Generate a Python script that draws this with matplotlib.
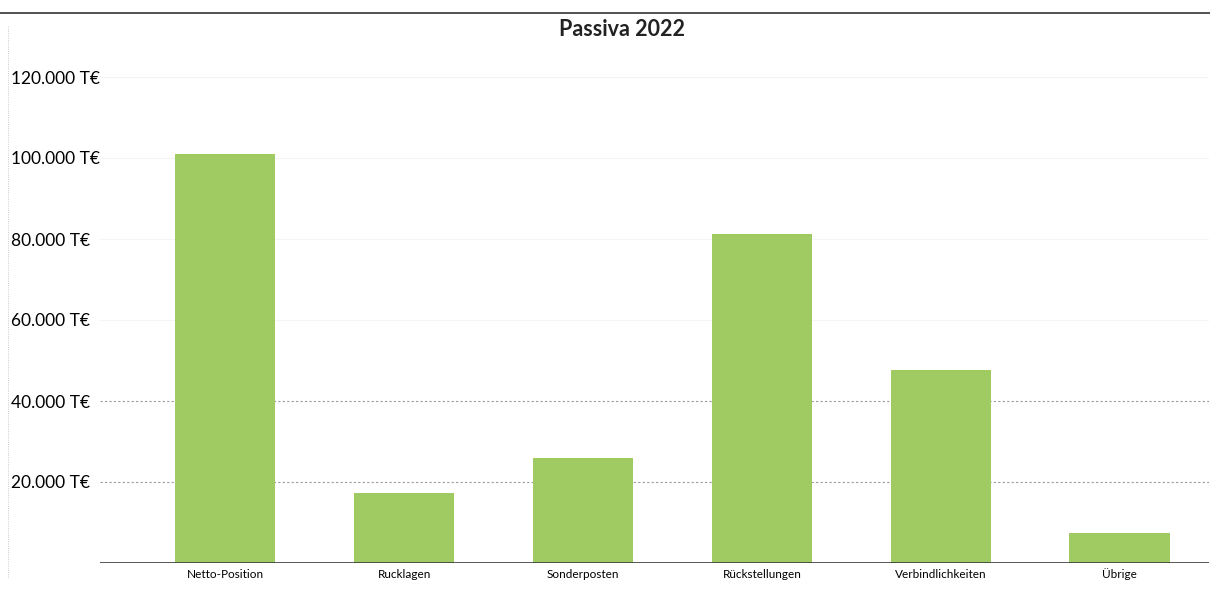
import matplotlib.pyplot as plt
import matplotlib.ticker as ticker
from matplotlib.lines import Line2D

# Data (T€)
categories = ['Netto-Position', 'Rucklagen', 'Sonderposten', 'Rückstellungen',
              'Verbindlichkeiten', 'Übrige']
values = [101000, 17300, 26000, 81300, 47600, 7400]
yticks = [20000, 40000, 60000, 80000, 100000, 120000]

plt.rcParams['font.family'] = ['Lato', 'DejaVu Sans']

fig = plt.figure(figsize=(12.10, 5.89), dpi=100)
ax = fig.add_axes([100 / 1210, 26 / 589, 1109 / 1210, 486 / 589])

# faint gridlines, the lower ones a bit darker like the scan
for t in yticks:
    col = '#9a9a9a' if t <= 40000 else '#f4f4f4'
    ax.axhline(t, color=col, lw=0.8, ls=(0, (2, 2)) if t <= 40000 else '-', zorder=0)

ax.bar(range(len(categories)), values, width=0.56, color='#9fcb62', zorder=2)
ax.axhline(0, color='#3a3a3a', lw=1.2, zorder=3)

ax.set_xlim(-0.7, 5.5)
ax.set_ylim(0, 120000)
ax.set_xticks(range(len(categories)))
ax.set_xticklabels(categories, fontsize=8.5)
ax.set_yticks(yticks)
ax.yaxis.set_major_formatter(ticker.FuncFormatter(
    lambda v, p: '{:,.0f} T€'.format(v).replace(',', '.')))
ax.tick_params(axis='x', length=0, pad=4)
ax.tick_params(axis='y', length=0, pad=64, labelsize=12.5)
for lab in ax.get_yticklabels():
    lab.set_horizontalalignment('left')
for s in ax.spines.values():
    s.set_visible(False)

fig.text(622 / 1210, 1 - 30 / 589, 'Passiva 2022', ha='center', va='center',
         fontsize=15.5, fontweight='bold', color='#222222')

# scan border at top and dotted edge on left
fig.add_artist(Line2D([0.0, 1.0], [1 - 13 / 589, 1 - 13 / 589],
                      transform=fig.transFigure, color='#333333', lw=1.2))
fig.add_artist(Line2D([8 / 1210, 8 / 1210], [0.02, 1 - 25 / 589],
                      transform=fig.transFigure, color='#bbbbbb', lw=0.6, ls=':'))

plt.savefig('out.png', dpi=100)
